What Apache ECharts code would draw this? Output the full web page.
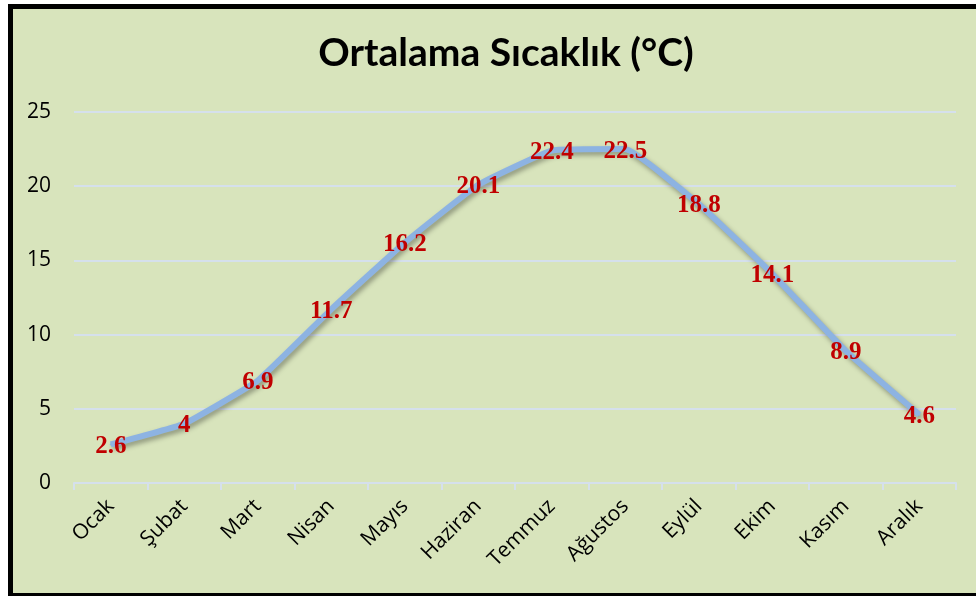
<!DOCTYPE html>
<html>
<head>
<meta charset="utf-8">
<script src="https://cdn.jsdelivr.net/npm/echarts@6/dist/echarts.min.js"></script>
<style>
  html, body { margin: 0; padding: 0; width: 976px; height: 596px; overflow: hidden; background: #fff; }
  #frame { position: absolute; left: 8px; top: 4px; width: 1010px; height: 584px; border: 5px solid #000; background: #d8e4bc; }
  #chart { position: absolute; left: 0; top: 0; width: 976px; height: 596px; }
</style>
</head>
<body>
<div id="frame"></div>
<div id="chart"></div>
<script>
// aylar ve ortalama sıcaklık
const months = ['Ocak', 'Şubat', 'Mart', 'Nisan', 'Mayıs', 'Haziran', 'Temmuz', 'Ağustos', 'Eylül', 'Ekim', 'Kasım', 'Aralık'];
const temps = [2.6, 4, 6.9, 11.7, 16.2, 20.1, 22.4, 22.5, 18.8, 14.1, 8.9, 4.6];
const yTicks = { min: 0, max: 25, step: 5 };

const chart = echarts.init(document.getElementById('chart'));
chart.setOption({
  animation: false,
  title: {
    text: 'Ortalama Sıcaklık (°C)',
    left: 501,
    textAlign: 'center',
    top: 29,
    textStyle: { fontFamily: 'Lato', fontWeight: 'bold', fontSize: 39, color: '#000' }
  },
  grid: { left: 74, right: 20, top: 112, bottom: 113 },
  xAxis: {
    type: 'category',
    data: months,
    boundaryGap: true,
    axisLine: { lineStyle: { color: '#d5e0ec', width: 2 } },
    axisTick: { show: true, length: 7, lineStyle: { color: '#d5e0ec', width: 2 } },
    axisLabel: { rotate: 45, margin: 20, color: '#000', fontFamily: 'Open Sans', fontSize: 21 }
  },
  yAxis: {
    type: 'value',
    min: yTicks.min,
    max: yTicks.max,
    interval: yTicks.step,
    axisLine: { show: false },
    axisTick: { show: false },
    axisLabel: { margin: 23, color: '#000', fontFamily: 'Open Sans', fontSize: 21 },
    splitLine: { lineStyle: { color: '#d5e0ec', width: 2 } }
  },
  series: [{
    type: 'line',
    data: temps,
    smooth: 0.1,
    symbol: 'circle',
    symbolSize: 2,
    itemStyle: { color: '#8db3e2' },
    lineStyle: {
      color: '#8db3e2', width: 6,
      shadowColor: 'rgba(0,0,0,0.35)', shadowBlur: 5, shadowOffsetX: 2, shadowOffsetY: 3
    },
    label: {
      show: true,
      position: 'inside',
      offset: [0, 2],
      color: '#c00000',
      fontFamily: 'Liberation Serif',
      fontWeight: 'bold',
      fontSize: 25
    }
  }]
});
</script>
</body>
</html>
